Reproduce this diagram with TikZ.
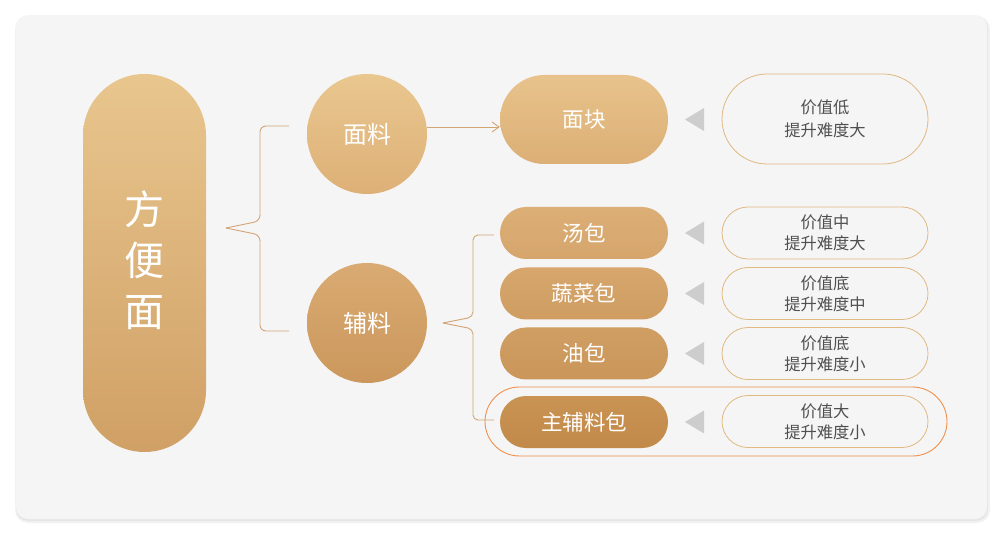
\documentclass[tikz,border=0pt]{standalone}
\usepackage{fontspec}
\setmainfont{Noto Sans CJK SC}
\usetikzlibrary{arrows.meta,shapes.misc}
\definecolor{panel}{HTML}{F5F5F5}
\definecolor{linecol}{HTML}{D2A575}
\definecolor{rbord}{HTML}{E0B882}
\definecolor{txtgrey}{HTML}{4F4F4F}
\definecolor{hlorange}{HTML}{F0904A}
\definecolor{trigrey}{HTML}{CDCDCD}
\tikzset{
  bigpill/.style={rectangle, rounded corners=61.5pt, minimum width=123pt, minimum height=378pt, inner sep=0pt, text=white, align=center, font=\fontsize{40}{51}\selectfont},
  circ/.style={circle, minimum size=120pt, inner sep=0pt, text=white, font=\fontsize{24}{28}\selectfont},
  lpill/.style={rounded rectangle, minimum width=168pt, inner sep=0pt, text=white, font=\fontsize{21.5}{25}\selectfont},
  rpill/.style={rounded rectangle, draw=rbord, line width=0.8pt, minimum width=206pt, inner sep=0pt, align=center, text=txtgrey, font=\fontsize{16.3}{21}\selectfont},
  conn/.style={draw=linecol, line width=0.9pt},
  tri/.style={fill=trigrey}
}
\begin{document}
\begin{tikzpicture}[x=1pt,y=1pt]
\useasboundingbox (0,0) rectangle (1001,-534);
% panel with soft shadow
\fill[black,opacity=0.05,rounded corners=13] (15,-16) rectangle (990,-523);
\fill[black,opacity=0.05,rounded corners=12] (16,-16) rectangle (988,-521);
\fill[panel,rounded corners=12] (16,-15) rectangle (987,-519);

% left big pill
\node[bigpill, top color={rgb,255:red,232;green,198;blue,142}, bottom color={rgb,255:red,208;green,160;blue,102}] (fbm) at (144.5,-263) {方\\便\\面\rule[-8pt]{0pt}{8pt}};

% circles
\node[circ, top color={rgb,255:red,233;green,199;blue,143}, bottom color={rgb,255:red,221;green,176;blue,119}] (ml) at (367,-134) {面料};
\node[circ, top color={rgb,255:red,217;green,171;blue,114}, bottom color={rgb,255:red,203;green,151;blue,92}] (fl) at (367,-323) {辅料};

% highlight outline
\node[rounded rectangle, draw=hlorange, line width=0.9pt, minimum width=462pt, minimum height=69pt, inner sep=0pt] (hl) at (716,-421.5) {};

% middle pills
\node[lpill, minimum height=89pt, top color={rgb,255:red,231;green,195;blue,139}, bottom color={rgb,255:red,220;green,175;blue,118}] (mk) at (584,-119.5) {面块};
\node[lpill, minimum height=52pt, top color={rgb,255:red,220;green,175;blue,118}, bottom color={rgb,255:red,213;green,165;blue,108}] (tb) at (584,-233) {汤包};
\node[lpill, minimum height=52pt, top color={rgb,255:red,214;green,166;blue,108}, bottom color={rgb,255:red,207;green,157;blue,98}] (scb) at (584,-293.5) {蔬菜包};
\node[lpill, minimum height=52pt, top color={rgb,255:red,208;green,158;blue,99}, bottom color={rgb,255:red,202;green,150;blue,90}] (yb) at (584,-353.5) {油包};
\node[lpill, minimum height=52pt, top color={rgb,255:red,201;green,147;blue,83}, bottom color={rgb,255:red,194;green,138;blue,74}] (zflb) at (584,-422) {主辅料包};

% right pills
\node[rpill, minimum height=90pt, font=\fontsize{16.3}{23}\selectfont] (r1) at (825,-119) {价值低\\提升难度大};
\node[rpill, minimum height=52pt] (r2) at (825,-233) {价值中\\提升难度大};
\node[rpill, minimum height=52pt] (r3) at (825,-293.5) {价值底\\提升难度中};
\node[rpill, minimum height=52pt] (r4) at (825,-353.5) {价值底\\提升难度小};
\node[rpill, minimum height=52pt] (r5) at (825,-421.5) {价值大\\提升难度小};

% triangles
\foreach \yy in {-119.5,-233,-293.5,-353.5,-422}{
  \fill[tri] (685,\yy) -- (704,\yy+11.5) -- (704,\yy-11.5) -- cycle;
}

% brace 1
\coordinate (b1top) at (289,-126);
\coordinate (b1tip) at (226,-228);
\coordinate (b1bot) at (289,-331);
\draw[conn, rounded corners=6pt] (b1top) -- (260,-126) -- (260,-221) -- (b1tip);
\draw[conn, rounded corners=6pt] (b1tip) -- (260,-235) -- (260,-331) -- (b1bot);

% brace 2
\coordinate (b2top) at (494,-235);
\coordinate (b2tip) at (443,-323);
\coordinate (b2bot) at (494,-420);
\draw[conn, rounded corners=5pt] (b2top) -- (473,-235) -- (473,-317) -- (b2tip);
\draw[conn, rounded corners=5pt] (b2tip) -- (473,-329) -- (473,-420) -- (b2bot);

% arrow
\draw[conn, -{Straight Barb[length=7pt,width=10pt]}] ([yshift=7pt]ml.east) -- ([yshift=-7.5pt]mk.west);
\end{tikzpicture}
\end{document}
